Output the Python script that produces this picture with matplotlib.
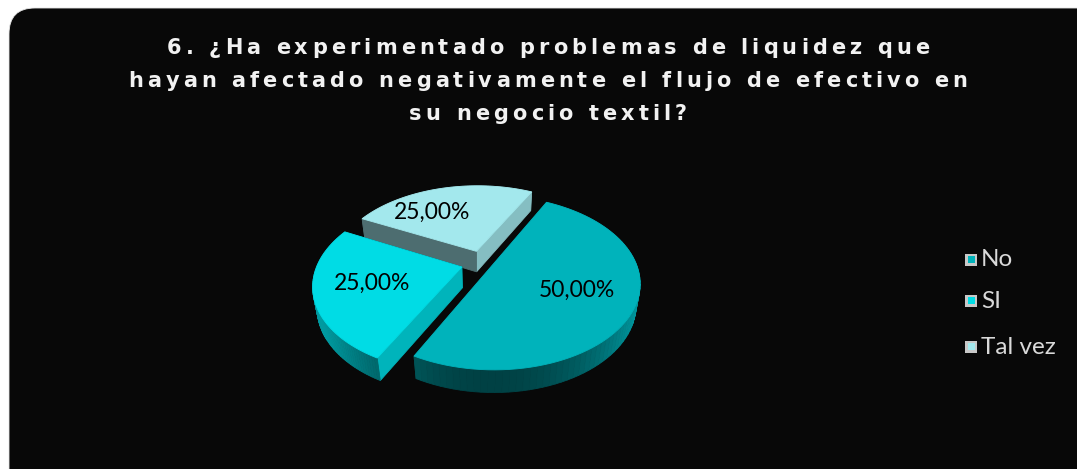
import numpy as np
import matplotlib.pyplot as plt
from matplotlib.patches import Polygon, FancyBboxPatch, Rectangle
from matplotlib.colors import to_rgb
from matplotlib.font_manager import FontProperties

# datos
categorias = ['No', 'SI', 'Tal vez']
valores = [50, 25, 25]
etiquetas = ['50,00%', '25,00%', '25,00%']
colores = ['#00b3bb', '#00dce5', '#a3e8ed']
explosion = [10, 22, 22]
titulo = ['6. ¿Ha experimentado problemas de liquidez que',
          'hayan afectado negativamente el flujo de efectivo en',
          'su negocio textil?']

W, H = 1077, 469
fig = plt.figure(figsize=(W / 100, H / 100), dpi=100)
fig.patch.set_facecolor('white')
ax = fig.add_axes([0, 0, 1, 1])
ax.set_xlim(0, W)
ax.set_ylim(H, 0)
ax.axis('off')

# fondo negro redondeado
ax.add_patch(FancyBboxPatch((9, 8), 1100, 500, boxstyle='round,pad=0,rounding_size=26',
                            fc='#080808', ec='#e6e6e6', lw=0.6))

# parametros de la vista 3D
cx, cy = 483, 263
R = 144
elev = np.radians(35)
sin_e, cos_e = np.sin(elev), np.cos(elev)
D = 600
grosor = 26


def proyectar(x, y, z):
    prof = y * cos_e - z * sin_e
    f = D / (D + prof)
    return cx + x * f, cy - (y * sin_e + z * cos_e) * f, prof


def sombra(phi):
    # factor de luz segun la normal de la pared
    a = 0.35 + 0.5 * max(0, np.cos(phi - np.radians(345))) ** 3
    a += 0.35 * max(0, np.cos(phi - np.radians(210))) ** 6
    return min(a, 1)


inicio = 63
total = sum(valores)
cortes = []
ang = inicio
for v in valores:
    a2 = ang
    a1 = ang - v / total * 360
    cortes.append((a1, a2))
    ang = a1

orden = [2, 1, 0]  # de atras hacia adelante
pos_etq = [0.62, 0.62, 0.66]
for i in orden:
    a1, a2 = np.radians(cortes[i][0]), np.radians(cortes[i][1])
    mid = (a1 + a2) / 2
    ox, oy = explosion[i] * np.cos(mid), explosion[i] * np.sin(mid)
    t = np.linspace(a1, a2, 80)
    pts = [(ox, oy)] + [(ox + R * np.cos(tt), oy + R * np.sin(tt)) for tt in t]
    base = np.array(to_rgb(colores[i]))
    paredes = []
    n = len(pts)
    for k in range(n):
        p, q = pts[k], pts[(k + 1) % n]
        dx, dy = q[0] - p[0], q[1] - p[1]
        phi = np.arctan2(-dx, dy)
        quad = [proyectar(p[0], p[1], 0), proyectar(q[0], q[1], 0),
                proyectar(q[0], q[1], -grosor), proyectar(p[0], p[1], -grosor)]
        prof = np.mean([c[2] for c in quad])
        col = base * sombra(phi)
        paredes.append((prof, [(c[0], c[1]) for c in quad], col))
    paredes.sort(key=lambda w: -w[0])
    for _, poly, col in paredes:
        ax.add_patch(Polygon(poly, closed=True, fc=col, ec=col, lw=0.6))
    sup = [proyectar(p[0], p[1], 0)[:2] for p in pts]
    ax.add_patch(Polygon(sup, closed=True, fc=colores[i], ec=colores[i], lw=0.6))
    me = mid + (0.25 if i == 2 else 0)
    lx, ly, _ = proyectar(ox + pos_etq[i] * R * np.cos(me), oy + pos_etq[i] * R * np.sin(me), 0)
    ax.text(lx, ly, etiquetas[i], ha='center', va='center', fontsize=16.5,
            family='Lato', color='black')

# leyenda
ley_y = [260, 301, 347]
for i, cat in enumerate(categorias):
    ax.add_patch(Rectangle((965, ley_y[i] - 6), 12, 12, fc='#c8c8c8', ec='none'))
    ax.add_patch(Rectangle((967.5, ley_y[i] - 3.5), 7, 7, fc=colores[i], ec='none'))
    ax.text(981, ley_y[i], cat, ha='left', va='center', fontsize=17.5,
            family='Lato', color='#d9d9d9')

# titulo con espaciado entre letras
fp = FontProperties(family='DejaVu Sans', weight='bold', size=15)
rend = fig.canvas.get_renderer()
esp = 4.1
ref = rend.get_text_width_height_descent('aa', fp, ismath=False)[0]
lin_y = [48, 81, 114]
for j, linea in enumerate(titulo):
    anchos = [rend.get_text_width_height_descent('a' + ch + 'a', fp, ismath=False)[0] - ref
              for ch in linea]
    largo = sum(anchos) + esp * (len(linea) - 1)
    x = 548 - largo / 2
    for ch, w in zip(linea, anchos):
        ax.text(x, lin_y[j], ch, ha='left', va='center', fontproperties=fp, color='#f2f2f2')
        x += w + esp

fig.savefig('out.png', dpi=100, facecolor='white')
